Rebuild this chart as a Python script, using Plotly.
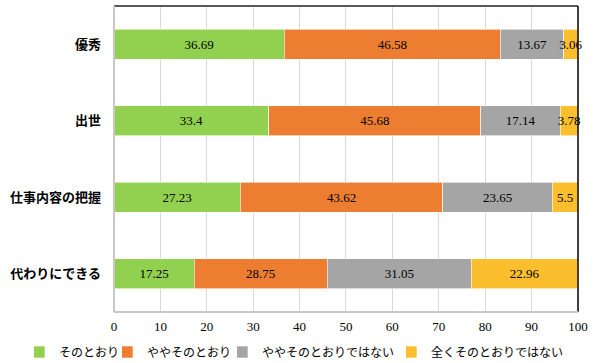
import plotly.graph_objects as go

categories = ["優秀", "出世", "仕事内容の把握", "代わりにできる"]
series_names = ["そのとおり", "ややそのとおり", "ややそのとおりではない", "全くそのとおりではない"]
v_sonotoori = [36.69, 33.4, 27.23, 17.25]
v_yaya = [46.58, 45.68, 43.62, 28.75]
v_yaya_not = [13.67, 17.14, 23.65, 31.05]
v_zenku_not = [3.06, 3.78, 5.5, 22.96]
colors = ["#92D050", "#ED7D31", "#A5A5A5", "#FBBF2D"]
x_ticks = [0, 10, 20, 30, 40, 50, 60, 70, 80, 90, 100]

W, H = 593, 363
legend_ids = ["legend", "legend2", "legend3", "legend4"]
legend_left_px = [34, 122, 237, 406]

fig = go.Figure()
for name, vals, col, lid in zip(series_names, [v_sonotoori, v_yaya, v_yaya_not, v_zenku_not], colors, legend_ids):
    fig.add_trace(go.Bar(
        y=categories, x=vals, name=name, orientation="h", legend=lid,
        marker=dict(color=col, line=dict(color="white", width=0.6)),
        text=[str(v) for v in vals], textposition="inside", insidetextanchor="middle",
        textangle=0, cliponaxis=False, constraintext="none",
        textfont=dict(family="Liberation Serif", size=13, color="#000000"),
        hoverinfo="skip",
    ))

legend_common = dict(orientation="h", xref="container", yref="container",
                     xanchor="left", yanchor="middle", y=(H - 352) / H,
                     font=dict(family="Noto Sans CJK JP", size=12, color="#000000"),
                     itemwidth=30, indentation=-15, bgcolor="rgba(0,0,0,0)")
legends = {}
for lid, px in zip(legend_ids, legend_left_px):
    legends[lid] = dict(legend_common, x=px / W)

fig.update_layout(
    barmode="stack",
    bargap=0.61,
    width=W, height=H,
    margin=dict(l=114, r=15, t=6, b=51, autoexpand=False),
    paper_bgcolor="white", plot_bgcolor="white",
    showlegend=True,
    xaxis=dict(range=[0, 100.02], tickvals=x_ticks, showgrid=True, gridcolor="#D9D9D9",
               gridwidth=1, zeroline=False, showline=False, automargin=False,
               tickfont=dict(family="Liberation Serif", size=13, color="#000000"),
               ticks="", ticklabelstandoff=5, fixedrange=True),
    yaxis=dict(categoryorder="array", categoryarray=categories[::-1],
               tickfont=dict(family="Noto Sans CJK JP", size=13, color="#000000", weight="bold"),
               ticks="", ticklabelstandoff=12, showline=False, showgrid=False, zeroline=False,
               automargin=False, fixedrange=True),
    shapes=[
        dict(type="line", xref="paper", yref="paper", x0=0, x1=1, y0=1, y1=1,
             line=dict(color="#595959", width=2)),
        dict(type="line", xref="paper", yref="paper", x0=1, x1=1, y0=0, y1=1,
             line=dict(color="#000000", width=1.5)),
        dict(type="line", xref="paper", yref="paper", x0=0, x1=0, y0=0, y1=1,
             line=dict(color="#C8C8C8", width=2)),
        dict(type="line", xref="paper", yref="paper", x0=0, x1=1, y0=0, y1=0,
             line=dict(color="#C8C8C8", width=2)),
    ],
    **legends,
)

fig.write_html("out.html", config={"displayModeBar": False},
               post_script="document.body.style.margin='0';")
